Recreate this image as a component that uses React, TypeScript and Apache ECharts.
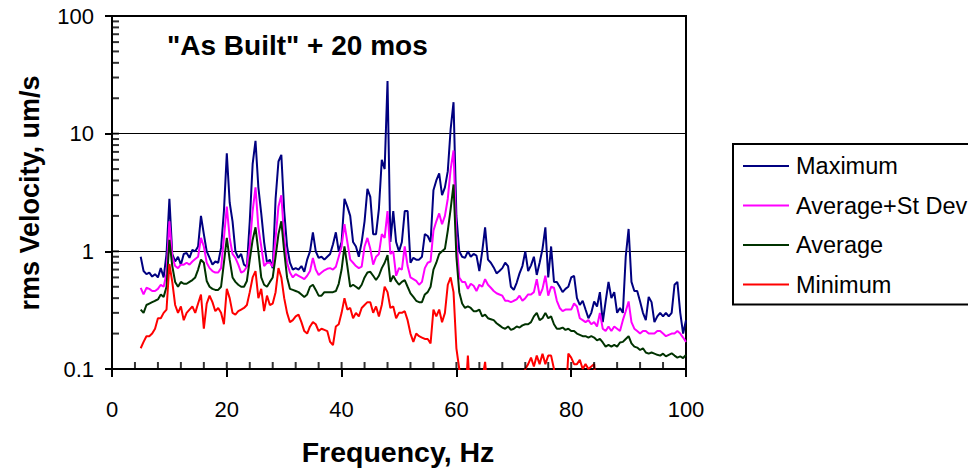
import React, { useEffect, useRef } from "react";
import * as echarts from "echarts";

// Frequency grid (Hz): first value and spacing of the sampled spectrum
const FREQ_START = 5;
const FREQ_STEP = 0.5;

// rms velocity, um/s — one value per 0.5 Hz from 5 to 100 Hz
const MAXIMUM = [
  0.9, 0.68, 0.64, 0.66, 0.61, 0.64, 0.6, 0.72, 0.6, 0.95,
  2.8, 0.95, 0.82, 0.9, 0.77, 0.95, 0.97, 0.88, 1.03, 1.0,
  1.1, 2.0, 1.4, 1.0, 0.88, 0.77, 0.82, 0.8, 1.07, 2.2,
  6.8, 2.6, 1.8, 1.0, 0.88, 0.95, 0.77, 0.74, 1.8, 5.5,
  8.7, 3.5, 2.1, 1.2, 0.8, 0.85, 0.72, 2.8, 5.8, 6.6,
  2.2, 1.1, 0.8, 0.7, 0.72, 0.7, 0.75, 0.67, 0.85, 1.0,
  1.45, 1.0, 0.88, 0.9, 0.85, 0.9, 0.95, 1.15, 1.45, 1.0,
  1.2, 2.8, 2.4, 2.0, 1.2, 1.1, 0.9, 1.2, 1.8, 3.4,
  2.9, 1.4, 1.4, 2.3, 6.0, 5.0, 28, 1.2, 2.2, 1.2,
  1.0, 1.2, 2.2, 2.2, 0.8, 0.88, 0.85, 0.85, 0.9, 1.4,
  1.35, 1.2, 3.3, 4.0, 4.6, 3.0, 3.5, 4.8, 11, 18.5,
  2.0, 1.0, 0.9, 0.88, 1.0, 0.9, 0.95, 0.92, 0.68, 1.0,
  1.6, 0.85, 0.8, 0.73, 0.65, 0.68, 0.72, 0.8, 0.75, 0.5,
  0.47, 0.54, 0.65, 0.75, 1.0, 0.68, 0.76, 0.9, 0.63, 0.8,
  1.05, 1.6, 0.6, 1.1, 0.55, 0.55, 0.5, 0.45, 0.48, 0.5,
  0.6, 0.62, 0.4, 0.35, 0.38, 0.32, 0.27, 0.3, 0.375, 0.34,
  0.45, 0.25, 0.375, 0.55, 0.4, 0.45, 0.3, 0.33, 0.3, 0.9,
  1.55, 0.55, 0.46, 0.46, 0.375, 0.3, 0.26, 0.41, 0.37, 0.25,
  0.28, 0.3, 0.28, 0.3, 0.28, 0.3, 0.52, 0.55, 0.3, 0.2,
  0.26,
];

const AVG_PLUS_SD = [
  0.49, 0.43, 0.49, 0.48, 0.46, 0.46, 0.48, 0.52, 0.5, 0.65,
  1.8, 0.9, 0.75, 0.72, 0.77, 0.77, 0.8, 0.77, 0.82, 0.86,
  0.9, 1.3, 1.1, 0.8, 0.72, 0.68, 0.66, 0.66, 0.72, 1.3,
  2.4, 1.3, 0.95, 0.88, 0.77, 0.66, 0.68, 0.74, 1.1, 2.2,
  3.5, 1.6, 1.1, 0.75, 0.8, 0.8, 0.74, 1.3, 2.4, 3.0,
  1.3, 0.8, 0.66, 0.6, 0.64, 0.62, 0.6, 0.58, 0.62, 0.68,
  0.88, 0.7, 0.63, 0.66, 0.69, 0.71, 0.72, 0.7, 0.74, 0.9,
  1.1, 1.7, 1.2, 0.85, 0.8, 0.75, 0.72, 0.74, 1.1, 1.3,
  1.05, 0.77, 0.9, 0.95, 1.4, 1.3, 2.2, 0.95, 1.0, 0.62,
  0.72, 0.7, 1.1, 0.75, 0.6, 0.58, 0.56, 0.52, 0.55, 0.72,
  0.8, 0.82, 1.5, 1.8, 2.1, 1.7, 2.0, 2.8, 5.0, 7.2,
  1.3, 0.6, 0.55, 0.55, 0.48, 0.53, 0.51, 0.46, 0.52, 0.5,
  0.58, 0.52, 0.49, 0.46, 0.44, 0.43, 0.42, 0.38, 0.38, 0.37,
  0.38, 0.39, 0.42, 0.38, 0.4, 0.43, 0.43, 0.45, 0.58, 0.42,
  0.48, 0.62, 0.42, 0.5, 0.49, 0.38, 0.33, 0.31, 0.32, 0.32,
  0.32, 0.36, 0.34, 0.27, 0.26, 0.25, 0.26, 0.24, 0.25, 0.23,
  0.3, 0.22, 0.21, 0.23, 0.21, 0.23, 0.22, 0.21, 0.26, 0.31,
  0.375, 0.25, 0.22, 0.21, 0.2, 0.21, 0.21, 0.2, 0.2, 0.2,
  0.21, 0.21, 0.2, 0.19, 0.195, 0.2, 0.2, 0.21, 0.2, 0.185,
  0.17,
];

const AVERAGE = [
  0.32, 0.3, 0.35, 0.36, 0.37, 0.38, 0.39, 0.43, 0.41, 0.5,
  1.25, 0.75, 0.55, 0.5, 0.55, 0.53, 0.53, 0.55, 0.57, 0.6,
  0.7, 0.85, 0.8, 0.56, 0.5, 0.48, 0.47, 0.47, 0.5, 0.8,
  1.3, 0.85, 0.6, 0.55, 0.52, 0.5, 0.5, 0.56, 0.85, 1.25,
  1.6, 1.0, 0.6, 0.52, 0.5, 0.55, 0.6, 0.9, 1.4, 1.8,
  1.0, 0.6, 0.48, 0.47, 0.46, 0.45, 0.43, 0.41, 0.43, 0.5,
  0.52, 0.47, 0.42, 0.42, 0.45, 0.45, 0.45, 0.45, 0.46, 0.53,
  0.7, 1.1, 0.75, 0.5, 0.52, 0.5, 0.48, 0.52, 0.6, 0.66,
  0.67, 0.62, 0.57, 0.62, 0.72, 0.8, 0.93, 0.55, 0.62, 0.56,
  0.52, 0.55, 0.57, 0.5, 0.44, 0.41, 0.38, 0.37, 0.37, 0.43,
  0.45, 0.5, 0.7, 0.8, 0.95, 1.0, 1.05, 1.5, 2.3, 3.7,
  0.9, 0.45, 0.36, 0.33, 0.34, 0.33, 0.31, 0.31, 0.32, 0.28,
  0.29, 0.27, 0.265, 0.26, 0.245, 0.235, 0.225, 0.22, 0.23, 0.215,
  0.22, 0.23, 0.225, 0.235, 0.24, 0.24, 0.25, 0.28, 0.3, 0.26,
  0.27, 0.3, 0.27, 0.28, 0.24, 0.22, 0.22, 0.225, 0.215, 0.22,
  0.21, 0.21, 0.2, 0.195, 0.19, 0.19, 0.185, 0.19, 0.185, 0.175,
  0.18, 0.168, 0.155, 0.16, 0.155, 0.16, 0.155, 0.168, 0.17, 0.18,
  0.19, 0.165, 0.155, 0.152, 0.145, 0.15, 0.138, 0.135, 0.138, 0.135,
  0.132, 0.13, 0.135, 0.128, 0.132, 0.136, 0.13, 0.125, 0.128, 0.124,
  0.132,
];

const MINIMUM = [
  0.15, 0.17, 0.19, 0.19, 0.2, 0.22, 0.27, 0.27, 0.3, 0.32,
  0.78, 0.55, 0.35, 0.3, 0.34, 0.26, 0.3, 0.32, 0.34, 0.3,
  0.36, 0.43, 0.22, 0.36, 0.42, 0.37, 0.31, 0.33, 0.3, 0.24,
  0.48, 0.4, 0.3, 0.29, 0.31, 0.32, 0.33, 0.35, 0.45, 0.6,
  0.68, 0.4, 0.48, 0.31, 0.42, 0.35, 0.36, 0.45, 0.72, 0.6,
  0.4, 0.3, 0.25, 0.26, 0.28, 0.29, 0.25, 0.21, 0.2, 0.23,
  0.25, 0.24, 0.21, 0.22, 0.215, 0.21, 0.17, 0.16, 0.23, 0.24,
  0.3, 0.4, 0.32, 0.33, 0.27, 0.3, 0.28, 0.33, 0.35, 0.37,
  0.37, 0.3, 0.34, 0.28, 0.35, 0.5, 0.45, 0.33, 0.34, 0.27,
  0.3, 0.3, 0.31, 0.26, 0.2, 0.17, 0.2, 0.19, 0.185, 0.18,
  0.18, 0.165, 0.32, 0.28, 0.32, 0.25, 0.3, 0.52, 0.6, 0.45,
  0.15, 0.1, 0.05, 0.05, 0.13, 0.05, 0.05, 0.05, 0.05, 0.08,
  0.115, 0.06, 0.05, 0.05, 0.05, 0.05, 0.05, 0.05, 0.05, 0.05,
  0.05, 0.05, 0.05, 0.05, 0.1, 0.11, 0.125, 0.105, 0.13, 0.11,
  0.135, 0.11, 0.13, 0.13, 0.1, 0.05, 0.05, 0.05, 0.05, 0.135,
  0.125, 0.11, 0.11, 0.12, 0.1, 0.11, 0.1, 0.105, 0.11, 0.05,
  0.05, 0.05, 0.05, 0.05, 0.05, 0.05, 0.05, 0.05, 0.05, 0.05,
  0.05, 0.05, 0.05, 0.05, 0.05, 0.05, 0.05, 0.05, 0.05, 0.05,
  0.05, 0.05, 0.05, 0.05, 0.05, 0.05, 0.05, 0.05, 0.05, 0.05,
  0.05,
];

const SERIES_NAMES = ["Maximum", "Average+St Dev", "Average", "Minimum"];
const SERIES_COLORS = ["#000080", "#FF00FF", "#003300", "#FF0000"];

// Tick values (drawn inward) for the frequency and velocity axes
const X_MINOR_TICKS = [4, 8, 12, 16, 24, 28, 32, 36, 44, 48, 52, 56, 64, 68, 72, 76, 84, 88, 92, 96];
const X_MAJOR_TICKS = [0, 20, 40, 60, 80, 100];
const Y_MINOR_TICKS = [0.2, 0.3, 0.4, 0.5, 0.6, 0.7, 0.8, 0.9, 2, 3, 4, 5, 6, 7, 8, 9, 20, 30, 40, 50, 60, 70, 80, 90];
const Y_MAJOR_TICKS = [0.1, 1, 10, 100];

const TITLE = '"As Built" + 20 mos';
const X_TITLE = "Frequency, Hz";
const Y_TITLE = "rms Velocity, um/s";

const FONT = "Arial, 'Liberation Sans', sans-serif";

export default function App() {
  const ref = useRef<HTMLDivElement>(null);

  useEffect(() => {
    if (!ref.current) return;
    const chart = echarts.init(ref.current, undefined, { renderer: "svg" });
    const freq = MAXIMUM.map((_, i) => FREQ_START + i * FREQ_STEP);
    const seriesValues = [MAXIMUM, AVG_PLUS_SD, AVERAGE, MINIMUM];

    const lineSeries = SERIES_NAMES.map((name, k) => ({
      name,
      type: "line",
      data: freq.map((f, i) => [f, seriesValues[k][i]]),
      showSymbol: false,
      symbol: "none",
      clip: true,
      color: SERIES_COLORS[k],
      lineStyle: { color: SERIES_COLORS[k], width: 2 },
      z: 3,
    }));

    const tickSeries = (name: string, data: number[][], size: number[], offset: number[]) => ({
      name,
      type: "scatter",
      silent: true,
      clip: false,
      z: 4,
      symbol: "rect",
      symbolSize: size,
      symbolOffset: offset,
      itemStyle: { color: "#000" },
      emphasis: { disabled: true },
      data,
    });

    const option: any = {
      animation: false,
      backgroundColor: "#ffffff",
      textStyle: { fontFamily: FONT },
      grid: {
        left: 112,
        right: 282,
        top: 16,
        bottom: 101,
        show: true,
        borderColor: "#000",
        borderWidth: 2,
        backgroundColor: "transparent",
      },
      xAxis: {
        type: "value",
        min: 0,
        max: 100,
        interval: 20,
        axisLine: { show: true, lineStyle: { color: "#000", width: 2 } },
        axisTick: { show: true, inside: false, length: 8, lineStyle: { color: "#000", width: 2 } },
        axisLabel: { color: "#000", fontSize: 22, fontFamily: FONT, margin: 29 },
        splitLine: { show: false },
      },
      yAxis: {
        type: "log",
        logBase: 10,
        min: 0.1,
        max: 100,
        axisLine: { show: true, lineStyle: { color: "#000", width: 2 } },
        axisTick: { show: true, inside: false, length: 7, lineStyle: { color: "#000", width: 2 } },
        axisLabel: {
          color: "#000",
          fontSize: 22,
          fontFamily: FONT,
          margin: 18,
          formatter: (v: number) => (v < 1 ? v.toFixed(1) : String(Math.round(v))),
        },
        splitLine: { show: true, lineStyle: { color: "#000", width: 1.2 } },
      },
      legend: {
        data: SERIES_NAMES,
        orient: "vertical",
        left: 733,
        top: 144,
        padding: [10, 12, 8, 10],
        itemGap: 15.5,
        itemWidth: 46,
        itemHeight: 2,
        icon: "rect",
        borderColor: "#000",
        borderWidth: 2,
        backgroundColor: "#fff",
        textStyle: { color: "#000", fontSize: 23.5, fontFamily: FONT, lineHeight: 24, padding: [0, 0, 0, 2] },
      },
      graphic: [
        {
          type: "text",
          x: 167,
          y: 45,
          style: {
            text: TITLE,
            font: `bold 28px ${FONT}`,
            fill: "#000",
            align: "left",
            verticalAlign: "middle",
            textAlign: "left",
            textVerticalAlign: "middle",
          },
        },
        {
          type: "text",
          x: 398,
          y: 452,
          style: {
            text: X_TITLE,
            font: `bold 28.5px ${FONT}`,
            fill: "#000",
            align: "center",
            verticalAlign: "middle",
            textAlign: "center",
            textVerticalAlign: "middle",
          },
        },
        {
          type: "text",
          x: 30,
          y: 193,
          rotation: Math.PI / 2,
          style: {
            text: Y_TITLE,
            font: `bold 27px ${FONT}`,
            fill: "#000",
            align: "center",
            verticalAlign: "middle",
            textAlign: "center",
            textVerticalAlign: "middle",
          },
        },
      ],
      series: [
        ...lineSeries,
        tickSeries("xMinorTicks", X_MINOR_TICKS.map((v) => [v, 0.1]), [2, 7], [0, -3.5]),
        tickSeries("xMajorTicks", X_MAJOR_TICKS.map((v) => [v, 0.1]), [2, 7], [0, -3.5]),
        tickSeries("yMinorTicks", Y_MINOR_TICKS.map((v) => [0, v]), [7, 2], [3.5, 0]),
        tickSeries("yMajorTicks", Y_MAJOR_TICKS.map((v) => [0, v]), [7, 2], [3.5, 0]),
      ],
    };

    chart.setOption(option);
    return () => chart.dispose();
  }, []);

  return (
    <div
      ref={ref}
      style={{ position: "fixed", left: 0, top: 0, width: 968, height: 470, background: "#fff" }}
    />
  );
}
